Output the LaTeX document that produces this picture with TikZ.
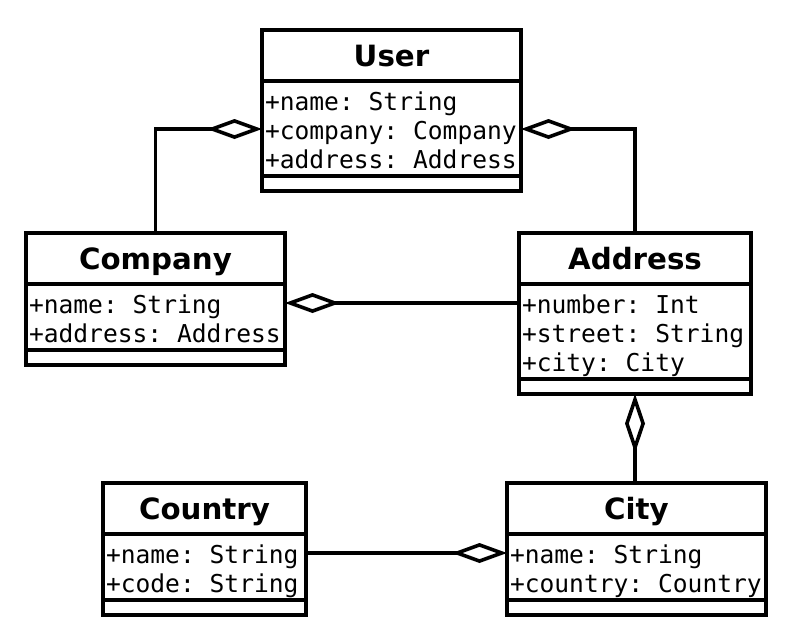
\documentclass[tikz,border=0pt]{standalone}
\usepackage{fontspec}
\setmainfont{DejaVu Sans}
\setmonofont{DejaVu Sans Mono}
\usetikzlibrary{arrows.meta}
\tikzset{
  box/.style={draw, line width=3.8pt, inner sep=0pt, outer sep=0pt, anchor=north west},
  ctitle/.style={box, font=\fontsize{29.3}{29}\selectfont\bfseries, text height=21pt, text depth=0pt, minimum height=51pt},
  attr/.style={anchor=base west, inner xsep=3pt, inner ysep=0pt, outer sep=0pt, text height=20pt, text depth=0pt, font=\fontsize{24.6}{29}\selectfont\ttfamily},
  agg/.style={line width=3.6pt, -{Diamond[length=55pt,width=20pt,fill=white]}},
  aggv/.style={line width=3.6pt, -{Diamond[length=59pt,width=20pt,fill=white]}},
}
\begin{document}
\begin{tikzpicture}[x=1pt,y=-1pt]
\path[fill=white,use as bounding box] (0,0) rectangle (785,643);

% User
\node[ctitle, minimum width=259pt] (ut) at (262,30) {User};
\node[box, minimum width=259pt, minimum height=95pt] (ua) at (ut.south west) {};
\node[box, minimum width=259pt, minimum height=15pt] (um) at (ua.south west) {};
\node[attr] (un) at ([yshift=-29pt]ua.north west) {+name: String};
\node[attr] (uc) at ([yshift=-58pt]ua.north west) {+company: Company};
\node[attr] (ud) at ([yshift=-87pt]ua.north west) {+address: Address};

% Company
\node[ctitle, minimum width=259pt] (cot) at (26,233) {Company};
\node[box, minimum width=259pt, minimum height=66pt] (ca) at (cot.south west) {};
\node[box, minimum width=259pt, minimum height=15pt] (cm) at (ca.south west) {};
\node[attr] (can) at ([yshift=-29pt]ca.north west) {+name: String};
\node[attr] (cad) at ([yshift=-58pt]ca.north west) {+address: Address};

% Address
\node[ctitle, minimum width=232pt] (adt) at (519,233) {Address};
\node[box, minimum width=232pt, minimum height=95pt] (aa) at (adt.south west) {};
\node[box, minimum width=232pt, minimum height=15pt] (am) at (aa.south west) {};
\node[attr] (an) at ([yshift=-29pt]aa.north west) {+number: Int};
\node[attr] (as) at ([yshift=-58pt]aa.north west) {+street: String};
\node[attr] (ac) at ([yshift=-87pt]aa.north west) {+city: City};

% Country
\node[ctitle, minimum width=203pt] (kt) at (103,483) {Country};
\node[box, minimum width=203pt, minimum height=66pt] (ka) at (kt.south west) {};
\node[box, minimum width=203pt, minimum height=15pt] (km) at (ka.south west) {};
\node[attr] (kn) at ([yshift=-29pt]ka.north west) {+name: String};
\node[attr] (kc) at ([yshift=-58pt]ka.north west) {+code: String};

% City
\node[ctitle, minimum width=259pt] (cyt) at (507,483) {City};
\node[box, minimum width=259pt, minimum height=66pt] (cya) at (cyt.south west) {};
\node[box, minimum width=259pt, minimum height=15pt] (cym) at (cya.south west) {};
\node[attr] (cyn) at ([yshift=-29pt]cya.north west) {+name: String};
\node[attr] (cyc) at ([yshift=-58pt]cya.north west) {+country: Country};

% Connectors
\draw[agg] (cot.north) |- (uc.west);
\draw[agg] (adt.north) |- (ua.east |- uc.west);
\draw[agg] (an.west) -- (ca.east |- an.west);
\draw[aggv] (cyt.north -| am.south) -- (am.south);
\draw[agg] (kn.west -| ka.east) -- (cyn.west);
\end{tikzpicture}
\end{document}
